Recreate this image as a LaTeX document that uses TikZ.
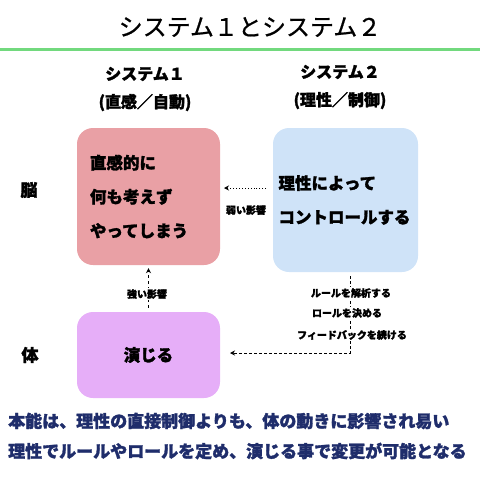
\documentclass[tikz,border=0pt]{standalone}
\usepackage{fontspec}
\setmainfont{Noto Sans CJK JP}[BoldFeatures={FakeBold=1.6}]
\newfontfamily\titlefont{Noto Sans CJK JP}[FakeBold=0.8]
\usepackage{xcolor}
\usetikzlibrary{arrows.meta}
\definecolor{sysred}{HTML}{E9A0A5}
\definecolor{sysblue}{HTML}{CFE3F8}
\definecolor{syspurple}{HTML}{E6AEF8}
\definecolor{rulegreen}{HTML}{72D97E}
\definecolor{notenavy}{HTML}{1F2D6B}
\begin{document}
\begin{tikzpicture}[x=1pt,y=-1pt]
        \tikzset{box/.style={rounded corners=16pt,inner sep=0pt,align=left,
                font=\fontsize{16.5}{34}\selectfont\bfseries},
            head/.style={align=center,font=\fontsize{16}{28}\selectfont\bfseries},
            side/.style={font=\fontsize{17}{20}\selectfont\bfseries},
            small/.style={fill=white,inner sep=1pt,font=\fontsize{10}{12}\selectfont\bfseries},
            note/.style={anchor=west,text=notenavy,inner sep=0pt,
                font=\fontsize{17}{20}\selectfont\bfseries},
            link/.style={-{Stealth[length=5pt,width=5pt]},line width=0.9pt,
                shorten >=3pt,shorten <=4pt}}
        \useasboundingbox (0,0) rectangle (480,480);
        \node[font=\fontsize{24}{28}\selectfont\titlefont] (title) at (250,27) {システム１とシステム２};
        \draw[rulegreen,line width=3pt] (0,49) -- (480,49);
        \node[head] (head1) at (145,89) {システム１\\(直感／自動)};
        \node[head] (head2) at (340,87) {システム２\\(理性／制御)};
        \node[side] (brain) at (29,190) {脳};
        \node[side] (body) at (30,355) {体};
        \node[box,fill=sysred,minimum width=143pt,minimum height=137pt,text width=117pt]
            (sys1) at (148.5,196.5) {直感的に\\何も考えず\\やってしまう};
        \node[box,fill=sysblue,minimum width=145pt,minimum height=144pt,text width=134pt]
            (sys2) at (345.5,200) {理性によって\\コントロールする};
        \node[box,fill=syspurple,minimum width=143pt,minimum height=86pt,align=center]
            (act) at (148.5,355) {演じる};
        % weak influence
        \coordinate (weakfrom) at (266,188);
        \coordinate (weakto) at (224,188);
        \draw[link,dotted,shorten <=0pt,shorten >=0pt] (weakfrom) -- (weakto);
        \node[small] (weak) at (246,210) {弱い影響};
        % strong influence
        \draw[link,dashed] (act.north) -- (sys1.south);
        \node[small] (strong) at (147,294) {強い影響};
        % rules
        \coordinate (turn) at (350,353);
        \coordinate (ruleto) at (230,353);
        \draw[link,densely dashed,shorten >=0pt] (sys2.south -| turn) -- (turn) -- (ruleto);
        \node[small] (rule1) at (351,293) {ルールを解析する};
        \node[small] (rule2) at (347,313) {ロールを決める};
        \node[small] (rule3) at (352,335) {フィードバックを続ける};
        \node[note] (note1) at (8,421) {本能は、理性の直接制御よりも、体の動きに影響され易い};
        \node[note] (note2) at (8,451) {理性でルールやロールを定め、演じる事で変更が可能となる};
    \end{tikzpicture}
\end{document}
